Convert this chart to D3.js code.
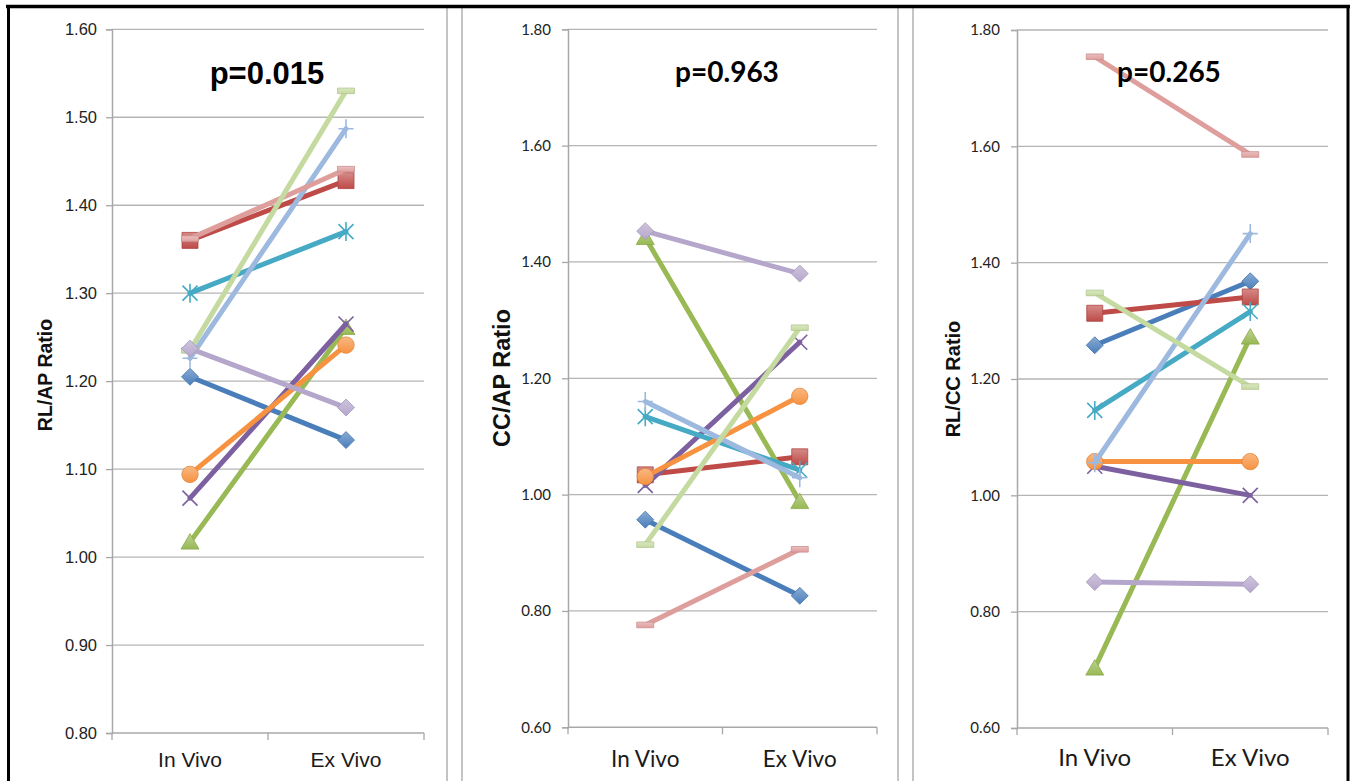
<!DOCTYPE html>
<html><head><meta charset="utf-8">
<script src="https://cdn.jsdelivr.net/npm/d3@7"></script>
<style>body{margin:0;background:#fff}</style>
</head><body><svg id="c" width="1357" height="781"></svg>
<script>
// ---------- DATA ----------
const categories = ["In Vivo", "Ex Vivo"];
// each entry = one specimen: [In Vivo, Ex Vivo], series 1..10
const rlApRatio = [[1.205,1.133],[1.360,1.428],[1.017,1.261],[1.067,1.265],[1.300,1.370],[1.094,1.241],[1.226,1.487],[1.362,1.441],[1.235,1.530],[1.237,1.170]];
const ccApRatio = [[0.957,0.826],[1.034,1.065],[1.442,0.988],[1.016,1.262],[1.134,1.042],[1.031,1.169],[1.160,1.029],[0.776,0.906],[0.914,1.287],[1.453,1.380]];
const rlCcRatio = [[1.258,1.368],[1.313,1.341],[0.703,1.272],[1.050,1.000],[1.146,1.316],[1.058,1.058],[1.056,1.450],[1.754,1.586],[1.348,1.187],[0.851,0.847]];
const rlApTicks = [0.80,0.90,1.00,1.10,1.20,1.30,1.40,1.50,1.60];
const ccApTicks = [0.60,0.80,1.00,1.20,1.40,1.60,1.80];
const rlCcTicks = [0.60,0.80,1.00,1.20,1.40,1.60,1.80];
const pValues = ["p=0.015","p=0.963","p=0.265"];
const yTitles = ["RL/AP Ratio","CC/AP Ratio","RL/CC Ratio"];

// ---------- STYLE ----------
const seriesColors = ["#4A7EBB","#BE4B48","#98B954","#7D60A0","#46AAC5","#F69240","#9DB9DF","#DE9E9C","#C5DAA0","#B5A6CB"];
const seriesMarkers = ["diamond","square","triangle","x","star","circle","plus","dash","dash","diamond"];

const svg = d3.select("#c");
svg.append("rect").attr("width",1357).attr("height",781).attr("fill","#fff");
const defs = svg.append("defs");
seriesColors.forEach((c,i)=>{
  const g = defs.append("linearGradient").attr("id","grad"+i).attr("x1",0).attr("y1",0).attr("x2",0).attr("y2",1);
  g.append("stop").attr("offset","0%").attr("stop-color", d3.interpolateRgb(c,"#fff")(0.35));
  g.append("stop").attr("offset","100%").attr("stop-color", c);
});

const panels = [
  {data: rlApRatio, ticks: rlApTicks, domain:[0.8,1.6], x0:112, x1:424, y0:29.3, y1:733,
   tickFont:"'Liberation Sans', Arial, sans-serif", tickSize:16.5, tickPad:9,
   catFont:"'Liberation Sans', Arial, sans-serif", catSize:21, catY:767,
   pFont:"'Liberation Sans', Arial, sans-serif", pSize:31, pX:267, pY:84,
   tFont:"'Liberation Sans', Arial, sans-serif", tSize:19.5, tX:45, tY:375},
  {data: ccApRatio, ticks: ccApTicks, domain:[0.6,1.8], x0:568, x1:877, y0:29.3, y1:727.3,
   tickFont:"Lato, sans-serif", tickSize:15, tickPad:11,
   catFont:"Lato, sans-serif", catSize:22.5, catY:767,
   pFont:"Lato, sans-serif", pSize:28, pX:727, pY:82,
   tFont:"'Liberation Sans', Arial, sans-serif", tSize:23.5, tX:502, tY:378},
  {data: rlCcRatio, ticks: rlCcTicks, domain:[0.6,1.8], x0:1017, x1:1328, y0:30, y1:728,
   tickFont:"Lato, sans-serif", tickSize:15, tickPad:11,
   catFont:"Lato, sans-serif", catSize:24, catY:766,
   pFont:"Lato, sans-serif", pSize:28, pX:1169, pY:82,
   tFont:"'Liberation Sans', Arial, sans-serif", tSize:20, tX:953, tY:379}
];

function markerPath(type){
  switch(type){
    case "diamond": return "M0,-8.5L8.5,0L0,8.5L-8.5,0Z";
    case "square": return "M-8,-8H8V8H-8Z";
    case "triangle": return "M0,-8.5L9,7H-9Z";
    case "circle": return d3.symbol(d3.symbolCircle, Math.PI*8.2*8.2)();
    case "dash": return "M-8.5,-2.8H8.5V2.8H-8.5Z";
    case "x": return "M-7.5,-7.5L7.5,7.5M-7.5,7.5L7.5,-7.5";
    case "star": return "M-7.5,-7.5L7.5,7.5M-7.5,7.5L7.5,-7.5M0,-9.5V9.5";
    case "plus": return "M0,-9.5V9.5M-7.5,0H7.5";
  }
}
const openMarkers = new Set(["x","star","plus"]);

panels.forEach((p,pi)=>{
  const g = svg.append("g");
  const y = d3.scaleLinear().domain(p.domain).range([p.y1,p.y0]);
  const band = d3.scaleBand().domain(categories).range([p.x0,p.x1]);
  const xc = c => band(c) + band.bandwidth()/2;

  // gridlines
  g.selectAll(".grid").data(p.ticks.slice(1)).join("line")
    .attr("x1",p.x0).attr("x2",p.x1).attr("y1",d=>y(d)).attr("y2",d=>y(d))
    .attr("stroke","#b5b5b5").attr("stroke-width",1.3);

  // y axis
  const ya = g.append("g").attr("transform",`translate(${p.x0},0)`)
    .call(d3.axisLeft(y).tickValues(p.ticks).tickSize(6).tickPadding(p.tickPad).tickFormat(d3.format(".2f")));
  ya.select(".domain").attr("stroke","#a8a8a8").attr("stroke-width",1.5);
  ya.selectAll(".tick line").attr("stroke","#a8a8a8").attr("stroke-width",1.3);
  ya.selectAll(".tick text").attr("font-family",p.tickFont).attr("font-size",p.tickSize).attr("fill","#222");

  // x axis
  g.append("line").attr("x1",p.x0).attr("x2",p.x1).attr("y1",p.y1).attr("y2",p.y1)
    .attr("stroke","#a8a8a8").attr("stroke-width",1.5);
  const edges = [band(categories[0])].concat(categories.map(c=>band(c)+band.bandwidth()));
  g.selectAll(".xt").data(edges).join("line")
    .attr("x1",d=>d).attr("x2",d=>d).attr("y1",p.y1).attr("y2",p.y1+7)
    .attr("stroke","#a8a8a8").attr("stroke-width",1.3);
  g.selectAll(".xl").data(categories).join("text")
    .attr("x",d=>xc(d)).attr("y",p.catY).attr("text-anchor","middle")
    .attr("font-family",p.catFont).attr("font-size",p.catSize).attr("fill","#1a1a1a").text(d=>d);

  // y title
  g.append("text").attr("transform",`translate(${p.tX},${p.tY}) rotate(-90)`)
    .attr("text-anchor","middle").attr("dy","0.35em")
    .attr("font-family",p.tFont).attr("font-weight","bold").attr("font-size",p.tSize).attr("fill","#111")
    .text(yTitles[pi]);

  // series
  p.data.forEach((vals,si)=>{
    const col = seriesColors[si];
    const sg = g.append("g");
    const pts = categories.map((c,k)=>[xc(c), y(vals[k])]);
    sg.append("path").attr("d", d3.line()(pts)).attr("fill","none")
      .attr("stroke",col).attr("stroke-width",5).attr("stroke-linecap","round");
    const m = seriesMarkers[si];
    sg.selectAll("path.m").data(pts).join("path").attr("class","m")
      .attr("transform",d=>`translate(${d[0]},${d[1]})`)
      .attr("d",markerPath(m))
      .attr("fill", openMarkers.has(m) ? "none" : `url(#grad${si})`)
      .attr("stroke", openMarkers.has(m) ? col : d3.color(col).darker(0.25))
      .attr("stroke-width", openMarkers.has(m) ? 1.6 : 0.8);
  });

  // p value
  g.append("text").attr("x",p.pX).attr("y",p.pY).attr("text-anchor","middle")
    .attr("font-family",p.pFont).attr("font-weight","bold").attr("font-size",p.pSize).attr("fill","#000")
    .text(pValues[pi]);
});

// frames
[447,462,898,913].forEach(x=>{
  svg.append("line").attr("x1",x).attr("x2",x).attr("y1",8).attr("y2",781)
    .attr("stroke","#c4c4c4").attr("stroke-width",2);
});
svg.append("line").attr("x1",6).attr("x2",1350).attr("y1",6.5).attr("y2",6.5).attr("stroke","#000").attr("stroke-width",3.5);
svg.append("line").attr("x1",8.5).attr("x2",8.5).attr("y1",5).attr("y2",781).attr("stroke","#000").attr("stroke-width",3);
svg.append("line").attr("x1",1348).attr("x2",1348).attr("y1",5).attr("y2",781).attr("stroke","#000").attr("stroke-width",3);
</script>
</body></html>
